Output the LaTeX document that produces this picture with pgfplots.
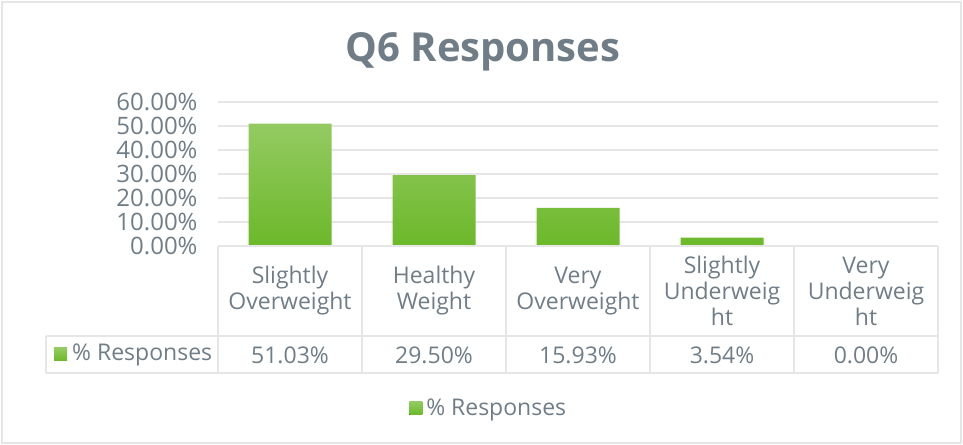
\documentclass[border=0pt]{standalone}
\usepackage{pgfplots}
\pgfplotsset{compat=1.18}
\usepackage{fontspec}
\setmainfont{Open Sans}
\definecolor{txt}{RGB}{112,125,135}
\definecolor{gridc}{RGB}{230,230,230}
\definecolor{gtop}{RGB}{148,202,98}
\definecolor{gbot}{RGB}{108,184,42}

\begin{document}
\begin{tikzpicture}[x=1bp,y=1bp]
\path[use as bounding box] (0,0) rectangle (963,-445);
\draw[gridc, line width=2bp] (2,-2) rectangle (961,-443);
\node[txt, anchor=base, font=\bfseries\fontsize{40bp}{44bp}\selectfont] at (483,-62) {Q6 Responses};
\begin{axis}[
  at={(218bp,-246bp)}, anchor=south west,
  scale only axis, width=720bp, height=144bp,
  xmin=-0.5, xmax=4.5, ymin=0, ymax=60,
  ytick={0,10,...,60},
  xtick={0,...,4},
  xticklabels={{Slightly\\Overweight},{Healthy\\Weight},{Very\\Overweight},{Slightly\\Underweig\\ht},{Very\\Underweig\\ht}},
  xticklabel style={anchor=center, yshift=-45bp, align=center, text=txt,
    font=\fontsize{23bp}{26bp}\selectfont},
  yticklabel={\pgfmathprintnumber[fixed,fixed zerofill,precision=2]{\tick}\%},
  /pgf/number format/assume math mode=true,
  yticklabel style={text=txt, font=\fontsize{24bp}{26bp}\selectfont, xshift=-17bp},
  major tick length=0pt,
  ymajorgrids, grid style={gridc, line width=2bp},
  separate axis lines,
  y axis line style={draw=none},
  x axis line style={draw=none},
  axis x line*=bottom,
  axis y line*=left,
  ybar, bar width=83bp, bar shift=0pt,
  legend style={at={(0.376,-1.125)}, anchor=center, draw=none, fill=none,
    text=txt, font=\fontsize{23bp}{26bp}\selectfont},
  legend image code/.code={\fill[top color=gtop, bottom color=gbot] (0bp,-6.5bp) rectangle (13bp,6.5bp);},
  legend cell align=left,
]
\addplot[draw=none, top color=gtop, bottom color=gbot] coordinates {(0,51.03) (1,29.50) (2,15.93) (3,3.54) (4,0)};
\addlegendentry{\hspace{2bp}\% Responses}
\end{axis}
% data table grid
\begin{scope}[gridc, line width=2bp]
\draw (218,-246) -- (938,-246);
\foreach \x in {218,362,506,650,794,938} \draw (\x,-246) -- (\x,-373);
\draw (46,-336) -- (938,-336);
\draw (46,-373) -- (938,-373);
\draw (46,-336) -- (46,-373);
\end{scope}
\begin{scope}[every node/.style={txt, font=\fontsize{23bp}{26bp}\selectfont}]
\node at (290,-355) {51.03\%};
\node at (434,-355) {29.50\%};
\node at (578,-355) {15.93\%};
\node at (722,-355) {3.54\%};
\node at (866,-355) {0.00\%};
\fill[top color=gtop, bottom color=gbot] (54,-348) rectangle (67,-361);
\node[anchor=west, inner sep=0pt] at (72,-355) {\% Responses};
\end{scope}
\end{tikzpicture}
\end{document}
